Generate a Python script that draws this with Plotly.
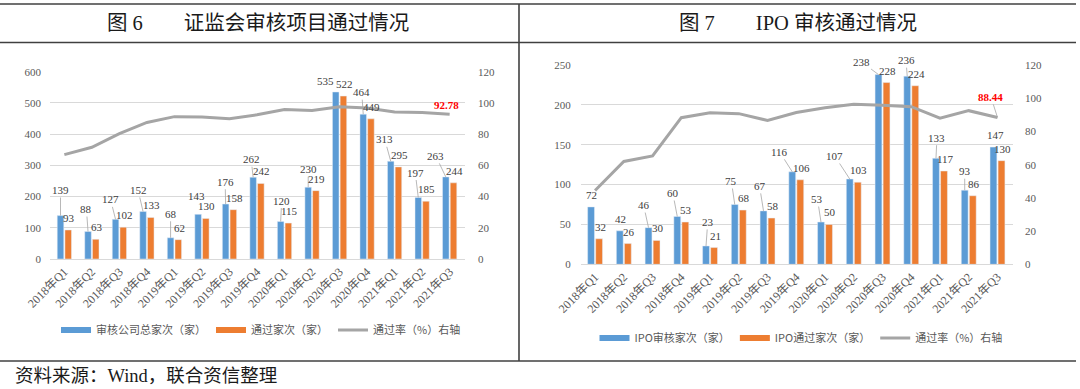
import plotly.graph_objects as go

# ---------------- data ----------------
quarters = ["2018年Q1", "2018年Q2", "2018年Q3", "2018年Q4",
            "2019年Q1", "2019年Q2", "2019年Q3", "2019年Q4",
            "2020年Q1", "2020年Q2", "2020年Q3", "2020年Q4",
            "2021年Q1", "2021年Q2", "2021年Q3"]

review_total = [139, 88, 127, 152, 68, 143, 176, 262, 120, 230, 535, 464, 313, 197, 263]
review_passed = [93, 63, 102, 133, 62, 130, 158, 242, 115, 219, 522, 449, 295, 185, 244]
review_rate = [66.9, 71.6, 80.3, 87.5, 91.2, 90.9, 89.8, 92.4, 95.8, 95.2, 97.6, 96.8, 94.2, 93.9, 92.78]

ipo_total = [72, 42, 46, 60, 23, 75, 67, 116, 53, 107, 238, 236, 133, 93, 147]
ipo_passed = [32, 26, 30, 53, 21, 68, 58, 106, 50, 103, 228, 224, 117, 86, 130]
ipo_rate = [44.4, 61.9, 65.2, 88.3, 91.3, 90.7, 86.6, 91.4, 94.3, 96.3, 95.8, 94.9, 88.0, 92.5, 88.44]

left_ticks = [0, 100, 200, 300, 400, 500, 600]
right_ticks = [0, 20, 40, 60, 80, 100, 120]
ipo_ticks = [0, 50, 100, 150, 200, 250]

# label placement (pixel offsets of the blue-bar labels, Excel-style moved labels)
left_dx = [0, -1.6, -5, -5, 0, -1.5, -0.5, -2, 1, 0, -10, -1.5, -6, -3, -10]
left_dy = [-25.6, -22.5, -20, -21.6, -24, -18.7, -22.3, -18, -21, -18, -11, -22, -22, -25, -21]
left_leader = [1, 1, 1, 1, 1, 0, 1, 1, 1, 1, 0, 1, 1, 1, 1]
right_dx = [0.5, 1, -5, -4.5, 1.7, -3.4, -4, -12.7, -3.5, -15, -17.4, -1.2, 1, 0, 2.4]
right_dy = [-12, -12, -22.6, -23.5, -24, -23.5, -25, -20, -23, -23, -13, -16, -20.6, -19, -12]
right_leader = [0, 0, 1, 1, 1, 1, 1, 1, 1, 1, 1, 1, 1, 1, 0]

BLUE = "#5B9BD5"
ORANGE = "#ED7D31"
GRAY = "#A5A5A5"
GRID = "#D9D9D9"
TXT = "#404040"
TICK = "#595959"
SERIF = "Liberation Serif, Times New Roman, Noto Sans CJK SC"
SANS = "Noto Sans CJK SC, Noto Sans"

W, H = 1080, 389


def px_x(x):
    return x / W


def px_y(y):
    return 1 - y / H


fig = go.Figure()

# ---- left chart ----
fig.add_trace(go.Bar(x=quarters, y=review_total, name="审核公司总家次（家）", marker_color=BLUE,
                     xaxis="x", yaxis="y", showlegend=False, offsetgroup="a"))
fig.add_trace(go.Bar(x=quarters, y=review_passed, name="通过家次（家）", marker_color=ORANGE,
                     xaxis="x", yaxis="y", showlegend=False, offsetgroup="b"))
fig.add_trace(go.Scatter(x=quarters, y=review_rate, name="通过率（%）右轴", mode="lines",
                         line=dict(color=GRAY, width=3), xaxis="x", yaxis="y2", showlegend=False))

# ---- right chart ----
fig.add_trace(go.Bar(x=quarters, y=ipo_total, name="IPO审核家次（家）", marker_color=BLUE,
                     xaxis="x2", yaxis="y3", showlegend=False, offsetgroup="a"))
fig.add_trace(go.Bar(x=quarters, y=ipo_passed, name="IPO通过家次（家）", marker_color=ORANGE,
                     xaxis="x2", yaxis="y3", showlegend=False, offsetgroup="b"))
fig.add_trace(go.Scatter(x=quarters, y=ipo_rate, name="通过率（%）右轴", mode="lines",
                         line=dict(color=GRAY, width=3), xaxis="x2", yaxis="y4", showlegend=False))

# ---- legend proxies (Excel style wide swatches) ----
for name, color, width, leg in [("审核公司总家次（家）", BLUE, 6, "legend"),
                                ("通过家次（家）", ORANGE, 6, "legend"),
                                ("通过率（%）右轴", GRAY, 3, "legend"),
                                ("IPO审核家次（家）", BLUE, 6, "legend2"),
                                ("IPO通过家次（家）", ORANGE, 6, "legend2"),
                                ("通过率（%）右轴", GRAY, 3, "legend2")]:
    fig.add_trace(go.Scatter(x=[None], y=[None], mode="lines", name=name,
                             line=dict(color=color, width=width), legend=leg,
                             xaxis="x", yaxis="y", showlegend=True, hoverinfo="skip"))

annotations = []


def bar_labels(totals, passed, dxs, dys, leaders, xref, yref):
    for i, (t, p) in enumerate(zip(totals, passed)):
        if leaders[i]:
            annotations.append(dict(x=i - 0.14, y=t, xref=xref, yref=yref, text=str(t),
                                    showarrow=True, arrowhead=0, arrowwidth=0.8, arrowcolor="#A6A6A6",
                                    ax=dxs[i], ay=dys[i], font=dict(family=SERIF, size=11, color=TXT)))
        else:
            annotations.append(dict(x=i - 0.14, y=t, xref=xref, yref=yref, text=str(t),
                                    showarrow=False, xshift=dxs[i], yshift=-dys[i],
                                    xanchor="center", yanchor="middle",
                                    font=dict(family=SERIF, size=11, color=TXT)))
        annotations.append(dict(x=i + 0.14, y=p, xref=xref, yref=yref, text=str(p),
                                showarrow=False, xshift=1, yshift=12, xanchor="center", yanchor="middle",
                                font=dict(family=SERIF, size=11, color=TXT)))


bar_labels(review_total, review_passed, left_dx, left_dy, left_leader, "x", "y")
bar_labels(ipo_total, ipo_passed, right_dx, right_dy, right_leader, "x2", "y3")

# red end labels on the rate lines
annotations.append(dict(x=len(quarters) - 1, y=review_rate[-1], xref="x", yref="y2",
                        text="<b>%.2f</b>" % review_rate[-1], showarrow=False, xshift=-3, yshift=9,
                        xanchor="center", yanchor="middle",
                        font=dict(family=SERIF, size=11, color="#FF0000")))
annotations.append(dict(x=len(quarters) - 1, y=ipo_rate[-1], xref="x2", yref="y4",
                        text="<b>%.2f</b>" % ipo_rate[-1], showarrow=True, arrowhead=0, arrowwidth=0.8,
                        arrowcolor="#A6A6A6", ax=-6.6, ay=-20.6,
                        font=dict(family=SERIF, size=11, color="#FF0000")))

# titles and source
annotations.append(dict(x=px_x(258), y=px_y(23), xref="paper", yref="paper", showarrow=False,
                        xanchor="center", yanchor="middle",
                        text="图 6\u3000\u3000证监会审核项目通过情况",
                        font=dict(family=SERIF, size=20.5, color="#1a1a1a")))
annotations.append(dict(x=px_x(798), y=px_y(23), xref="paper", yref="paper", showarrow=False,
                        xanchor="center", yanchor="middle",
                        text="图 7\u3000\u3000IPO 审核通过情况",
                        font=dict(family=SERIF, size=20.5, color="#1a1a1a")))
annotations.append(dict(x=px_x(13), y=px_y(376), xref="paper", yref="paper", showarrow=False,
                        xanchor="left", yanchor="middle", text="资料来源：Wind，联合资信整理",
                        font=dict(family=SERIF, size=18.5, color="#1a1a1a")))

frame = dict(color="#404040", width=1.6)
shapes = [
    dict(type="line", xref="paper", yref="paper", x0=0, x1=px_x(1076), y0=px_y(4), y1=px_y(4), line=frame),
    dict(type="line", xref="paper", yref="paper", x0=0, x1=px_x(1076), y0=px_y(42.5), y1=px_y(42.5), line=frame),
    dict(type="line", xref="paper", yref="paper", x0=0, x1=px_x(1076), y0=px_y(361), y1=px_y(361), line=frame),
    dict(type="line", xref="paper", yref="paper", x0=px_x(519), x1=px_x(519), y0=px_y(4), y1=px_y(361), line=frame),
]

tickfont_y = dict(family=SERIF, size=11, color=TICK)
tickfont_x = dict(family=SERIF, size=12, color=TICK)

xcommon = dict(type="category", tickangle=-45, showgrid=False, showline=True, linecolor=GRID,
               linewidth=1, ticks="", tickfont=tickfont_x, categoryorder="array",
               categoryarray=quarters, fixedrange=True, automargin=False)

fig.update_layout(
    width=W, height=H,
    margin=dict(l=0, r=0, t=0, b=0, pad=0, autoexpand=False),
    paper_bgcolor="white", plot_bgcolor="white",
    barmode="group", bargap=0.44, bargroupgap=0.15,
    xaxis=dict(domain=[px_x(50), px_x(465)], anchor="y", **xcommon),
    yaxis=dict(domain=[px_y(259), px_y(71.7)], range=[0, 600], tickvals=left_ticks,
               showgrid=True, gridcolor=GRID, gridwidth=1, zeroline=False, showline=False,
               tickfont=tickfont_y, ticklabelstandoff=8, fixedrange=True, automargin=False),
    yaxis2=dict(domain=[px_y(259), px_y(71.7)], range=[0, 120], tickvals=right_ticks,
                overlaying="y", side="right", anchor="x", showgrid=False, zeroline=False,
                tickfont=tickfont_y, ticklabelstandoff=12, fixedrange=True, automargin=False),
    xaxis2=dict(domain=[px_x(580.7), px_x(1013)], anchor="y3", **xcommon),
    yaxis3=dict(domain=[px_y(264.3), px_y(65)], range=[0, 250], tickvals=ipo_ticks, anchor="x2",
                showgrid=True, gridcolor=GRID, gridwidth=1, zeroline=False, showline=False,
                tickfont=tickfont_y, ticklabelstandoff=9, fixedrange=True, automargin=False),
    yaxis4=dict(domain=[px_y(264.3), px_y(65)], range=[0, 120], tickvals=right_ticks,
                overlaying="y3", side="right", anchor="x2", showgrid=False, zeroline=False,
                tickfont=tickfont_y, ticklabelstandoff=11, fixedrange=True, automargin=False),
    legend=dict(orientation="h", x=px_x(261), y=px_y(330), xanchor="center", yanchor="middle",
                font=dict(family=SANS, size=11, color=TICK), bgcolor="rgba(0,0,0,0)"),
    legend2=dict(orientation="h", x=px_x(801), y=px_y(338), xanchor="center", yanchor="middle",
                 font=dict(family=SANS, size=11, color=TICK), bgcolor="rgba(0,0,0,0)"),
    annotations=annotations,
    shapes=shapes,
)

fig.write_html("out.html", config={"displayModeBar": False},
               post_script="document.body.style.margin='0';document.body.style.overflow='hidden';")
